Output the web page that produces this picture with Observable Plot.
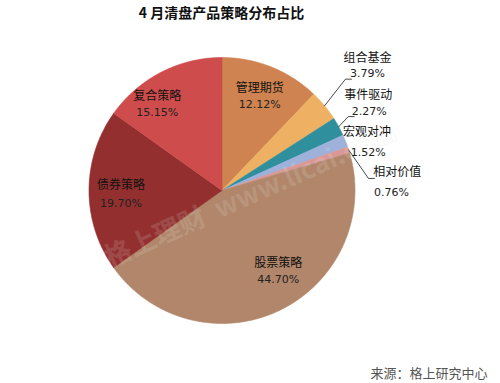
<!DOCTYPE html>
<html>
<head>
<meta charset="utf-8">
<script src="https://cdn.jsdelivr.net/npm/d3@7"></script>
<script src="https://cdn.jsdelivr.net/npm/@observablehq/plot@0.6"></script>
<style>
  html, body { margin: 0; padding: 0; background: #fff; }
  svg { display: block; }
</style>
</head>
<body>
<div id="chart"></div>
<script>
// ---- data ----
const title = "4 月清盘产品策略分布占比";
const source = "来源：格上研究中心";
const watermark = "格上理财  www.licai.com";
const names = ["管理期货", "组合基金", "事件驱动", "宏观对冲", "相对价值", "股票策略", "债券策略", "复合策略"];
const values = [12.12, 3.79, 2.27, 1.52, 0.76, 44.70, 19.70, 15.15];
const colors = ["#CF8350", "#EEB163", "#2F8F9D", "#9DB1DB", "#D99795", "#B1866A", "#93302F", "#CE4C4C"];

// ---- layout ----
const W = 500, H = 383;
const CX = 221.5, CY = 190, R = 133;
const labelR = [0.765, 1.44, 1.28, 1.15, 1.32, 0.74, 0.76, 0.81];
const labelShift = [0, -1, -2.2, 3.4, 15, -9, -2.3, -9.7];
const lineGap = [16, 15, 16, 20, 20, 16, 18, 17];
const pctDx = [0, 0, 1, 1, -6, 0, 0, 0];
const leaderIdx = [1, 2, 4];
const elbowR = [1.25, 1.10, 1.105];
const elbowShift = [-2.5, -1.7, 13];

const rad = d => d * Math.PI / 180;
const pt = (aDeg, r) => [CX + r * Math.sin(rad(aDeg)), CY - r * Math.cos(rad(aDeg))];

const arcs = d3.pie().sort(null).value(d => d)(values);

// slice polygons
const poly = [];
arcs.forEach((a, i) => {
  const a0 = a.startAngle * 180 / Math.PI, a1 = a.endAngle * 180 / Math.PI;
  const n = Math.max(2, Math.ceil((a1 - a0) / 0.5));
  poly.push({name: names[i], x: CX, y: CY});
  for (let j = 0; j <= n; j++) {
    const [x, y] = pt(a0 + (a1 - a0) * j / n, R);
    poly.push({name: names[i], x, y});
  }
  poly.push({name: names[i], x: CX, y: CY});
});

// labels
const labels = arcs.map((a, i) => {
  const mid = (a.startAngle + a.endAngle) / 2 * 180 / Math.PI;
  const [x, y] = pt(mid + labelShift[i], labelR[i] * R);
  return {name: names[i], pct: values[i].toFixed(2) + "%", x, y, gap: lineGap[i], pdx: pctDx[i]};
});

// leader lines
const leaders = [];
leaderIdx.forEach((i, k) => {
  const a = arcs[i];
  const mid = (a.startAngle + a.endAngle) / 2 * 180 / Math.PI;
  const p0 = pt(mid, R);
  const p1 = pt(mid + elbowShift[k], elbowR[k] * R);
  leaders.push({id: i, x: p0[0], y: p0[1]});
  leaders.push({id: i, x: p1[0], y: p1[1]});
  leaders.push({id: i, x: p1[0] + 6, y: p1[1]});
});

const chart = Plot.plot({
  width: W,
  height: H,
  margin: 0,
  x: {domain: [0, W], range: [0, W], axis: null},
  y: {domain: [0, H], range: [0, H], axis: null},
  color: {domain: names, range: colors},
  style: {fontFamily: "'Noto Sans CJK SC', 'Noto Sans', sans-serif"},
  marks: [
    Plot.line(poly, {x: "x", y: "y", z: "name", fill: "name", stroke: "name", strokeWidth: 0.6, curve: "linear"}),
    Plot.text([watermark], {frameAnchor: "middle", dx: 250 - W / 2, dy: 195 - H / 2, text: d => d, rotate: -24,
      fontSize: 27, fill: "#ffffff", fillOpacity: 0.13, stroke: "#999", strokeOpacity: 0.1, strokeWidth: 0.8, fontWeight: "bold"}),
    Plot.line(leaders, {x: "x", y: "y", z: "id", stroke: "#333", strokeWidth: 0.9}),
    Plot.text(labels, {x: "x", y: d => d.y - d.gap / 2, text: "name", fontSize: 12, fill: "#111"}),
    Plot.text(labels, {x: d => d.x + d.pdx, y: d => d.y + d.gap / 2, text: "pct", fontSize: 11, fill: "#222",
      fontFamily: "'DejaVu Sans', sans-serif"}),
    Plot.text([title], {frameAnchor: "top", dx: 221 - W / 2, dy: 13, text: d => d, fontSize: 14, fontWeight: "bold", fill: "#111", lineAnchor: "middle"}),
    Plot.text([source], {frameAnchor: "bottom-right", dx: -13, dy: -10, text: d => d, fontSize: 13, fill: "#555", textAnchor: "end", lineAnchor: "middle"})
  ]
});
document.getElementById("chart").appendChild(chart);
</script>
</body>
</html>
